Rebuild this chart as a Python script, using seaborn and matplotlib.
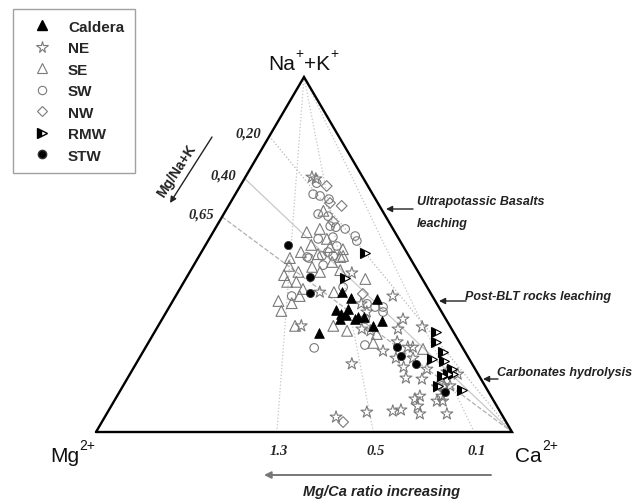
import numpy as np
import pandas as pd
import matplotlib
matplotlib.use("Agg")
import matplotlib.pyplot as plt
import seaborn as sns
from matplotlib.lines import Line2D

# ---------------------------------------------------------------------------
# Ternary composition of the water samples (meq %): Na+K and Ca; Mg is the rest
# ---------------------------------------------------------------------------
caldera_nak = [27.9, 34.4, 33.2, 34.6, 37.7, 33.0, 31.8, 31.8, 32.4, 29.9, 31.3, 37.5, 39.4, 32.4]
caldera_ca = [39.7, 40.5, 42.3, 43.3, 42.4, 43.6, 42.8, 46.4, 46.8, 51.7, 53.2, 48.8, 39.4, 48.2]

ne_nak = [71.8, 71.3, 44.8, 39.4, 38.3, 36.1, 33.8, 31.8, 29.0, 28.5, 29.0, 29.6, 29.9, 22.8,
          25.4, 23.9, 23.9, 20.8, 20.8, 18.3, 17.7, 19.2, 15.2, 14.9, 16.3, 16.9, 13.0, 13.0,
          10.1, 9.3, 10.1, 8.7, 8.7, 7.3, 5.9, 6.2, 5.1, 5.1, 5.6, 4.2, 12.7]
ne_ca = [16.0, 17.2, 39.1, 34.1, 52.2, 45.7, 48.2, 57.9, 49.4, 51.7, 58.1, 63.6, 34.4, 57.6,
         59.7, 63.0, 64.2, 61.7, 65.8, 64.8, 70.7, 51.9, 66.9, 70.9, 78.8, 75.9, 77.2, 78.6,
         72.8, 72.0, 78.1, 77.6, 79.0, 73.7, 68.4, 70.2, 75.3, 81.8, 62.3, 55.6, 75.7]

se_nak = [56.3, 57.2, 62.3, 50.7, 52.7, 54.4, 52.1, 51.5, 49.0, 50.1, 49.3, 46.8, 45.1, 45.1,
          42.3, 42.3, 36.9, 36.3, 34.1, 38.3, 29.9, 29.9, 28.5, 27.6, 25.1, 43.1, 39.4, 49.6,
          47.9, 45.6, 23.4, 46.5, 44.2, 40.3]
se_ca = [22.5, 25.2, 23.5, 23.9, 25.4, 28.3, 30.2, 33.6, 22.1, 28.3, 34.1, 23.0, 26.1, 31.3,
         24.8, 27.0, 25.4, 28.9, 27.5, 29.8, 32.9, 42.1, 46.1, 53.7, 54.1, 43.2, 37.5, 34.6,
         32.8, 35.9, 66.9, 28.7, 23.1, 29.6]

sw_nak = [70.1, 67.0, 66.5, 65.6, 61.4, 60.8, 58.0, 57.7, 57.2, 55.2, 53.8, 54.4, 54.9, 52.4,
          49.3, 49.6, 49.6, 50.7, 47.0, 40.8, 38.3, 36.1, 35.2, 35.2, 33.8, 31.8, 24.5, 23.7,
          13.0, 49.0]
sw_ca = [18.0, 18.7, 20.6, 23.2, 22.7, 25.4, 27.3, 28.8, 31.3, 34.7, 35.8, 26.2, 29.5, 31.7,
         26.1, 29.5, 32.2, 30.4, 31.1, 39.0, 27.9, 47.1, 49.5, 51.4, 52.1, 48.8, 52.4, 40.6,
         76.7, 26.7]

nw_nak = [69.3, 63.7, 64.5, 59.2, 38.9, 2.8]
nw_ca = [20.8, 27.2, 24.0, 27.4, 44.7, 58.0]

rmw_nak = [50.4, 43.4, 28.2, 25.4, 20.6, 22.5, 20.0, 15.8, 16.3, 16.3, 13.0, 11.8, 17.7]
rmw_ca = [39.5, 38.2, 67.6, 69.0, 70.5, 72.1, 73.7, 75.3, 76.4, 77.6, 75.7, 82.1, 76.7]

stw_nak = [52.7, 43.7, 39.2, 23.9, 21.4, 19.2, 11.3]
stw_ca = [19.9, 29.6, 31.8, 60.4, 62.6, 67.3, 78.3]

groups = ["Caldera", "NE", "SE", "SW", "NW", "RMW", "STW"]

# reference ratios drawn as guide lines
mg_nak_ratios = [0.20, 0.40, 0.65]
mg_nak_labels = ["0,20", "0,40", "0,65"]
mg_ca_ratios = [1.3, 0.5, 0.1]
mg_ca_labels = ["1.3", "0.5", "0.1"]

# ---------------------------------------------------------------------------
sns.set_theme(style="white")
plt.rcParams["font.family"] = ["Liberation Sans", "DejaVu Sans"]

SQ3 = np.sqrt(3) / 2


def to_xy(nak, ca):
    """Ternary (Na+K, Ca, Mg = rest) -> cartesian; Mg at (0,0), Ca at (1,0)."""
    nak = np.asarray(nak, float) / 100.0
    ca = np.asarray(ca, float) / 100.0
    return ca + nak / 2.0, nak * SQ3


frames = []
for g, nak, ca in [("Caldera", caldera_nak, caldera_ca), ("NE", ne_nak, ne_ca),
                   ("SE", se_nak, se_ca), ("SW", sw_nak, sw_ca), ("NW", nw_nak, nw_ca),
                   ("RMW", rmw_nak, rmw_ca), ("STW", stw_nak, stw_ca)]:
    d = pd.DataFrame({"group": g, "NaK": nak, "Ca": ca})
    d["Mg"] = 100 - d["NaK"] - d["Ca"]
    d["x"], d["y"] = to_xy(d["NaK"], d["Ca"])
    frames.append(d)
df = pd.concat(frames, ignore_index=True)

W, H = 644, 502
fig = plt.figure(figsize=(W / 100, H / 100), dpi=100)
ax = fig.add_axes([0, 0, 1, 1])
ax.set_xlim(-96 / 416, 548 / 416)
ax.set_ylim(-69 / 409.9, 433 / 409.9)
ax.axis("off")


def fp(px, py):
    """figure pixel (from top-left) -> figure fraction"""
    return px / W, 1 - py / H


# guide lines: constant Mg/(Na+K) from the Ca corner
mg_nak_styles = [(":", "#b5b5b5", 0.9), ("-", "#c8c8c8", 0.9), ("--", "#b0b0b0", 0.9)]
for r, lab, (ls, col, lw) in zip(mg_nak_ratios, mg_nak_labels, mg_nak_styles):
    nak = 100 / (1 + r)
    x0, y0 = to_xy(nak, 0)
    x1, y1 = to_xy(0, 100)
    ax.plot([x0, x1], [y0, y1], ls=ls, color=col, lw=lw, zorder=1)
    ax.annotate(lab, (x0, y0), xytext=(-8, 3), textcoords="offset pixels",
                ha="right", va="center", fontsize=10.5, fontweight="bold",
                fontstyle="italic", family="Liberation Serif")

# guide lines: constant Mg/Ca from the Na+K apex
for r, lab in zip(mg_ca_ratios, mg_ca_labels):
    ca = 100 / (1 + r)
    x0, y0 = to_xy(0, ca)
    x1, y1 = to_xy(100, 0)
    ax.plot([x0, x1], [y0, y1], ls=":", color="#c4c4c4", lw=0.9, zorder=1)
    ax.annotate(lab, (x0, y0), xytext=(2, -19), textcoords="offset pixels",
                ha="center", va="center", fontsize=10.5, fontweight="bold",
                fontstyle="italic", family="Liberation Serif")

# triangle frame
cx, cy = to_xy([0, 0, 100, 0], [0, 100, 0, 0])
ax.plot(cx, cy, color="black", lw=1.7, zorder=2, solid_joinstyle="miter")

# sample markers
grey = "#7a7a7a"
styles = {
    "Caldera": dict(marker="^", s=48, color="black", edgecolor="black", linewidth=0.6),
    "NE": dict(marker="*", s=80, color=grey, facecolor="none", edgecolor=grey, linewidth=0.8),
    "SE": dict(marker="^", s=60, color=grey, facecolor="none", edgecolor=grey, linewidth=0.8),
    "SW": dict(marker="o", s=38, color=grey, facecolor="none", edgecolor=grey, linewidth=0.8),
    "NW": dict(marker="D", s=30, color=grey, facecolor="none", edgecolor=grey, linewidth=0.8),
    "STW": dict(marker="o", s=34, color="black", edgecolor="#333333", linewidth=0.6),
}
order = ["SE", "SW", "NW", "NE", "Caldera", "STW"]
for g in order:
    sns.scatterplot(data=df[df.group == g], x="x", y="y", ax=ax, legend=False,
                    zorder=3, **styles[g])

rmw = df[df.group == "RMW"]
ax.plot(rmw["x"], rmw["y"], linestyle="none", marker=">", markersize=6.5,
        fillstyle="left", markerfacecolor="black", markerfacecoloralt="white",
        markeredgecolor="black", markeredgewidth=0.8, zorder=4)

# legend
handles = [
    Line2D([], [], ls="none", marker="^", markersize=7, markerfacecolor="black",
           markeredgecolor="black"),
    Line2D([], [], ls="none", marker="*", markersize=8.5, markerfacecolor="none",
           markeredgecolor=grey, markeredgewidth=0.8),
    Line2D([], [], ls="none", marker="^", markersize=7, markerfacecolor="none",
           markeredgecolor=grey, markeredgewidth=0.8),
    Line2D([], [], ls="none", marker="o", markersize=6, markerfacecolor="none",
           markeredgecolor=grey, markeredgewidth=0.8),
    Line2D([], [], ls="none", marker="D", markersize=5.5, markerfacecolor="none",
           markeredgecolor=grey, markeredgewidth=0.8),
    Line2D([], [], ls="none", marker=">", markersize=6.5, fillstyle="left",
           markerfacecolor="black", markerfacecoloralt="white", markeredgecolor="black"),
    Line2D([], [], ls="none", marker="o", markersize=6, markerfacecolor="black",
           markeredgecolor="#333333"),
]
leg = ax.legend(handles, groups, loc="upper left", bbox_to_anchor=fp(13, 10),
                bbox_transform=fig.transFigure, borderaxespad=0, frameon=True,
                fancybox=False, edgecolor="#8a8a8a", prop=dict(size=11, weight="bold"),
                labelspacing=0.49, handlelength=2.4, handletextpad=0.5, borderpad=0.7)
leg.get_frame().set_linewidth(1.0)


# corner labels (main text + raised superscript)
def corner_label(parts, x_left, baseline):
    """parts: list of (text, is_superscript); laid out left to right."""
    renderer = fig.canvas.get_renderer()
    x = x_left
    for txt, sup in parts:
        t = fig.text(*fp(x, baseline - (12 if sup else 0)), txt,
                     fontsize=10 if sup else 15, color="#111111",
                     ha="left", va="baseline")
        bb = t.get_window_extent(renderer=renderer)
        x += bb.width + (0.5 if sup else 0.5)


corner_label([("Na", False), ("+", True), ("+K", False), ("+", True)], 268, 70)
corner_label([("Mg", False), ("2+", True)], 50, 462)
corner_label([("Ca", False), ("2+", True)], 515, 462)

# process annotations on the right side
akw = dict(fontsize=9, fontweight="bold", fontstyle="italic", color="#222222")
fig.text(*fp(417, 202), "Ultrapotassic Basalts", ha="left", va="center", **akw)
fig.text(*fp(417, 224), "leaching", ha="left", va="center", **akw)
fig.text(*fp(465, 297), "Post-BLT rocks leaching", ha="left", va="center", **akw)
fig.text(*fp(497, 373), "Carbonates hydrolysis", ha="left", va="center", **akw)

arw = dict(arrowstyle="-|>", color="#222222", lw=1.0, mutation_scale=9, shrinkA=0, shrinkB=0)
for tail, tip in [((413, 210), (386, 210)), ((466, 302), (439, 302)), ((498, 380), (483, 380))]:
    ax.annotate("", xy=fp(*tip), xycoords="figure fraction",
                xytext=fp(*tail), textcoords="figure fraction", arrowprops=arw)

# ratio arrows
ax.annotate("", xy=fp(170, 204), xycoords="figure fraction", xytext=fp(212, 138),
            textcoords="figure fraction",
            arrowprops=dict(arrowstyle="-|>", color="#222222", lw=1.0, mutation_scale=9,
                            shrinkA=0, shrinkB=0))
fig.text(*fp(177, 171), "Mg/Na+K", rotation=57, ha="center", va="center",
         fontsize=10, fontweight="bold", color="#222222", rotation_mode="anchor")

ax.annotate("", xy=fp(264, 476), xycoords="figure fraction", xytext=fp(491, 476),
            textcoords="figure fraction",
            arrowprops=dict(arrowstyle="-|>", color="#777777", lw=1.4, mutation_scale=10,
                            shrinkA=0, shrinkB=0))
fig.text(*fp(382, 492), "Mg/Ca ratio increasing", ha="center", va="center",
         fontsize=10.5, fontweight="bold", fontstyle="italic", color="#222222")

fig.savefig("out.png", dpi=100)
